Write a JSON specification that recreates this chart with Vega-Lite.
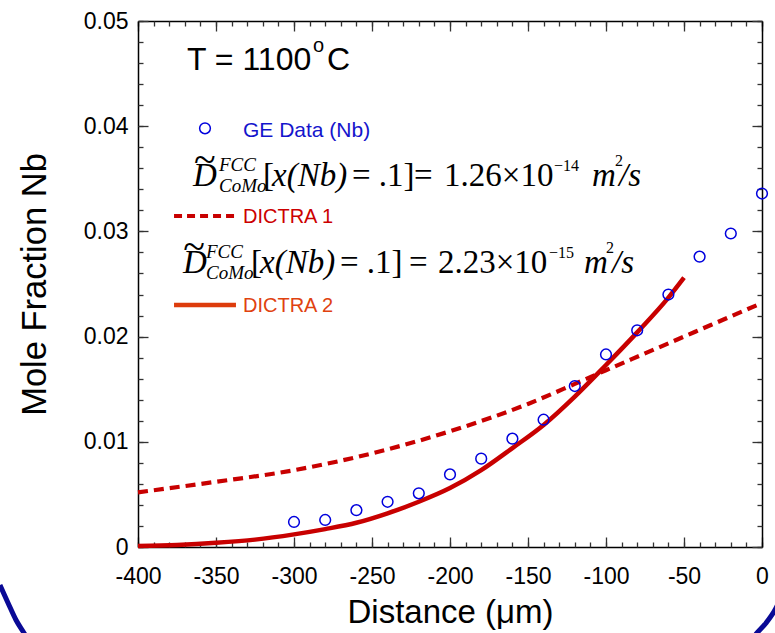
{
  "$schema": "https://vega.github.io/schema/vega-lite/v6.json",
  "width": 624,
  "height": 526,
  "autosize": {"type": "none"},
  "padding": {"left": 138, "top": 21, "right": 13, "bottom": 86},
  "background": "white",
  "config": {"view": {"stroke": null}, "axis": {"grid": false, "labelFont": "Liberation Sans", "titleFont": "Liberation Sans", "labelColor": "black", "titleColor": "black", "titleFontWeight": "normal", "domainColor": "black", "domainWidth": 1.5}},
  "datasets": {
    "ge": [
      {"x": -300, "y": 0.00238}, {"x": -280, "y": 0.00257}, {"x": -260, "y": 0.0035}, {"x": -240, "y": 0.0043},
      {"x": -220, "y": 0.0051}, {"x": -200, "y": 0.0069}, {"x": -180, "y": 0.0084}, {"x": -160, "y": 0.0103},
      {"x": -140, "y": 0.0121}, {"x": -120, "y": 0.0153}, {"x": -100, "y": 0.0183}, {"x": -80, "y": 0.0206},
      {"x": -60, "y": 0.024}, {"x": -40, "y": 0.0276}, {"x": -20, "y": 0.0298}, {"x": 0, "y": 0.0336}
    ],
    "dictra1": [
      {"x": -400, "y": 0.0052}, {"x": -350, "y": 0.0062}, {"x": -300, "y": 0.0073}, {"x": -250, "y": 0.0089},
      {"x": -200, "y": 0.011}, {"x": -150, "y": 0.0136}, {"x": -120, "y": 0.0155}, {"x": -100, "y": 0.0168},
      {"x": -75, "y": 0.0184}, {"x": -50, "y": 0.02}, {"x": -25, "y": 0.0216}, {"x": 0, "y": 0.0232}
    ],
    "dictra2": [
      {"x": -400, "y": 0.0001}, {"x": -375, "y": 0.0002}, {"x": -350, "y": 0.0004}, {"x": -325, "y": 0.0007},
      {"x": -300, "y": 0.0012}, {"x": -280, "y": 0.0017}, {"x": -260, "y": 0.0023}, {"x": -240, "y": 0.0032},
      {"x": -220, "y": 0.0043}, {"x": -200, "y": 0.0056}, {"x": -180, "y": 0.0073}, {"x": -160, "y": 0.0094},
      {"x": -140, "y": 0.0116}, {"x": -120, "y": 0.0143}, {"x": -100, "y": 0.0173}, {"x": -80, "y": 0.0204},
      {"x": -60, "y": 0.0237}, {"x": -50, "y": 0.0256}
    ],
    "legendLines": [
      {"series": "DICTRA 1", "x": -376.9, "y": 0.03146}, {"series": "DICTRA 1", "x": -337.2, "y": 0.03146},
      {"series": "DICTRA 2", "x": -376.9, "y": 0.023}, {"series": "DICTRA 2", "x": -337.2, "y": 0.023}
    ],
    "legendPoint": [{"x": -357.05, "y": 0.0398}],
    "arc": [
      {"side": "left", "x": -488.5, "y": -0.00361}, {"side": "left", "x": -483.3, "y": -0.00532},
      {"side": "left", "x": -478.2, "y": -0.00694}, {"side": "left", "x": -473.1, "y": -0.00817},
      {"side": "left", "x": -470.5, "y": -0.00884},
      {"side": "right", "x": 11.5, "y": -0.00504}, {"side": "right", "x": 8.3, "y": -0.00599},
      {"side": "right", "x": 2.6, "y": -0.00722}, {"side": "right", "x": -3.2, "y": -0.00817},
      {"side": "right", "x": -5.8, "y": -0.00865}
    ],
    "labels": [
      {"g": "head", "t": "T = 1100", "x": -368.6, "y": 0.04534},
      {"g": "head", "t": "C", "x": -278.8, "y": 0.04534},
      {"g": "headsup", "t": "o", "x": -287.8, "y": 0.04705},
      {"g": "ge", "t": "GE Data (Nb)", "x": -332.7, "y": 0.03897},
      {"g": "d1", "t": "DICTRA 1", "x": -332.7, "y": 0.0308},
      {"g": "d2", "t": "DICTRA 2", "x": -332.7, "y": 0.02234},
      {"g": "tilde", "t": "~", "x": -357.1, "y": 0.03555},
      {"g": "tilde", "t": "~", "x": -364.1, "y": 0.02728},
      {"g": "it", "t": "D", "x": -364.74, "y": 0.03432},
      {"g": "it", "t": "x(Nb)", "x": -314.1, "y": 0.03432},
      {"g": "it", "t": "m", "x": -108.97, "y": 0.03432},
      {"g": "it", "t": "/s", "x": -91.67, "y": 0.03432},
      {"g": "up", "t": "[", "x": -319.87, "y": 0.03432},
      {"g": "up", "t": "= .1]", "x": -262.82, "y": 0.03432},
      {"g": "up", "t": "=", "x": -223.08, "y": 0.03432},
      {"g": "up", "t": "1.26×10", "x": -203.8, "y": 0.03432},
      {"g": "its", "t": "FCC", "x": -348.08, "y": 0.03574},
      {"g": "its", "t": "CoMo", "x": -348.08, "y": 0.033745},
      {"g": "ups", "t": "−14", "x": -133.3, "y": 0.03574},
      {"g": "ups", "t": "2", "x": -94.23, "y": 0.03622},
      {"g": "it", "t": "D", "x": -371.15, "y": 0.02605},
      {"g": "it", "t": "x(Nb)", "x": -321.79, "y": 0.02605},
      {"g": "it", "t": "m", "x": -114.1, "y": 0.02605},
      {"g": "it", "t": "/s", "x": -96.15, "y": 0.02605},
      {"g": "up", "t": "[", "x": -327.56, "y": 0.02605},
      {"g": "up", "t": "= .1]", "x": -270.51, "y": 0.02605},
      {"g": "up", "t": "=", "x": -226.28, "y": 0.02605},
      {"g": "up", "t": "2.23×10", "x": -207.7, "y": 0.02605},
      {"g": "its", "t": "FCC", "x": -356.41, "y": 0.02747},
      {"g": "its", "t": "CoMo", "x": -356.41, "y": 0.02548},
      {"g": "ups", "t": "−15", "x": -136.5, "y": 0.02747},
      {"g": "ups", "t": "2", "x": -100.0, "y": 0.02795}
    ]
  },
  "resolve": {"axis": {"x": "independent", "y": "independent"}},
  "layer": [
    {
      "data": {"name": "dictra1"},
      "mark": {"type": "line", "color": "#c80000", "strokeWidth": 4.2, "strokeDash": [10, 6], "interpolate": "monotone"},
      "encoding": {
        "x": {"field": "x", "type": "quantitative", "scale": {"domain": [-400, 0], "nice": false, "zero": false},
          "axis": {"orient": "bottom", "values": [-400, -350, -300, -250, -200, -150, -100, -50, 0], "ticks": false, "labelExpr": "'' + datum.value", "labelFontSize": 23, "labelPadding": 18, "labelFlush": false, "labelOverlap": false, "title": "Distance (μm)", "titleFontSize": 33, "titlePadding": 8}},
        "y": {"field": "y", "type": "quantitative", "scale": {"domain": [0, 0.05], "nice": false, "zero": false},
          "axis": {"orient": "left", "values": [0, 0.01, 0.02, 0.03, 0.04, 0.05], "ticks": false, "labelExpr": "'' + datum.value", "labelFontSize": 23, "labelPadding": 10, "labelFlush": false, "labelOverlap": false, "title": "Mole Fraction Nb", "titleFontSize": 34.5, "titlePadding": 31}}
      }
    },
    {
      "data": {"name": "dictra2"},
      "mark": {"type": "line", "color": "#c80000", "strokeWidth": 4.5, "interpolate": "monotone"},
      "encoding": {
        "x": {"field": "x", "type": "quantitative", "axis": {"orient": "bottom", "values": [-400, -350, -300, -250, -200, -150, -100, -50, 0], "labels": false, "domain": false, "title": null, "tickSize": -10, "tickColor": "#333", "tickWidth": 1.3}},
        "y": {"field": "y", "type": "quantitative", "axis": {"orient": "left", "values": [0, 0.01, 0.02, 0.03, 0.04, 0.05], "labels": false, "domain": false, "title": null, "tickSize": -10, "tickColor": "#333", "tickWidth": 1.3}}
      }
    },
    {
      "data": {"name": "ge"},
      "mark": {"type": "point", "shape": "circle", "filled": false, "color": "#0000dd", "strokeWidth": 1.5, "size": 115, "opacity": 1},
      "encoding": {
        "x": {"field": "x", "type": "quantitative", "axis": {"orient": "bottom", "values": [-400, -390, -380, -370, -360, -350, -340, -330, -320, -310, -300, -290, -280, -270, -260, -250, -240, -230, -220, -210, -200, -190, -180, -170, -160, -150, -140, -130, -120, -110, -100, -90, -80, -70, -60, -50, -40, -30, -20, -10, 0], "labels": false, "domain": false, "title": null, "tickSize": -5, "tickColor": "#333", "tickWidth": 1.3}},
        "y": {"field": "y", "type": "quantitative", "axis": {"orient": "left", "values": [0, 0.002, 0.004, 0.006, 0.008, 0.01, 0.012, 0.014, 0.016, 0.018, 0.02, 0.022, 0.024, 0.026, 0.028, 0.03, 0.032, 0.034, 0.036, 0.038, 0.04, 0.042, 0.044, 0.046, 0.048, 0.05], "labels": false, "domain": false, "title": null, "tickSize": -5, "tickColor": "#333", "tickWidth": 1.3}}
      }
    },
    {
      "data": {"name": "legendLines"},
      "transform": [{"filter": "datum.series === 'DICTRA 1'"}],
      "mark": {"type": "line", "color": "#c80000", "strokeWidth": 4, "strokeDash": [8, 5]},
      "encoding": {
        "x": {"field": "x", "type": "quantitative", "axis": {"orient": "top", "values": [-400, -350, -300, -250, -200, -150, -100, -50, 0], "labels": false, "domain": true, "title": null, "tickSize": -10, "tickColor": "#333", "tickWidth": 1.3}},
        "y": {"field": "y", "type": "quantitative", "axis": {"orient": "right", "values": [0, 0.01, 0.02, 0.03, 0.04, 0.05], "labels": false, "domain": true, "title": null, "tickSize": -10, "tickColor": "#333", "tickWidth": 1.3}}
      }
    },
    {
      "data": {"name": "legendLines"},
      "transform": [{"filter": "datum.series === 'DICTRA 2'"}],
      "mark": {"type": "line", "color": "#dd3c0c", "strokeWidth": 4.5},
      "encoding": {
        "x": {"field": "x", "type": "quantitative", "axis": {"orient": "top", "values": [-400, -390, -380, -370, -360, -350, -340, -330, -320, -310, -300, -290, -280, -270, -260, -250, -240, -230, -220, -210, -200, -190, -180, -170, -160, -150, -140, -130, -120, -110, -100, -90, -80, -70, -60, -50, -40, -30, -20, -10, 0], "labels": false, "domain": false, "title": null, "tickSize": -5, "tickColor": "#333", "tickWidth": 1.3}},
        "y": {"field": "y", "type": "quantitative", "axis": {"orient": "right", "values": [0, 0.002, 0.004, 0.006, 0.008, 0.01, 0.012, 0.014, 0.016, 0.018, 0.02, 0.022, 0.024, 0.026, 0.028, 0.03, 0.032, 0.034, 0.036, 0.038, 0.04, 0.042, 0.044, 0.046, 0.048, 0.05], "labels": false, "domain": false, "title": null, "tickSize": -5, "tickColor": "#333", "tickWidth": 1.3}}
      }
    },
    {
      "data": {"name": "legendPoint"},
      "mark": {"type": "point", "shape": "circle", "filled": false, "color": "#0000dd", "strokeWidth": 1.5, "size": 115, "opacity": 1},
      "encoding": {
        "x": {"field": "x", "type": "quantitative", "axis": null},
        "y": {"field": "y", "type": "quantitative", "axis": null}
      }
    },
    {
      "data": {"name": "arc"},
      "mark": {"type": "line", "color": "#0a0a96", "strokeWidth": 5, "interpolate": "monotone"},
      "encoding": {
        "x": {"field": "x", "type": "quantitative", "axis": null},
        "y": {"field": "y", "type": "quantitative", "axis": null},
        "detail": {"field": "side"}
      }
    },
    {
      "data": {"name": "labels"},
      "transform": [{"filter": "datum.g === 'head'"}],
      "mark": {"type": "text", "align": "left", "baseline": "alphabetic", "font": "Liberation Sans", "fontSize": 32, "color": "black"},
      "encoding": {"x": {"field": "x", "type": "quantitative", "axis": null}, "y": {"field": "y", "type": "quantitative", "axis": null}, "text": {"field": "t"}}
    },
    {
      "data": {"name": "labels"},
      "transform": [{"filter": "datum.g === 'headsup'"}],
      "mark": {"type": "text", "align": "left", "baseline": "alphabetic", "font": "Liberation Sans", "fontSize": 20, "color": "black"},
      "encoding": {"x": {"field": "x", "type": "quantitative", "axis": null}, "y": {"field": "y", "type": "quantitative", "axis": null}, "text": {"field": "t"}}
    },
    {
      "data": {"name": "labels"},
      "transform": [{"filter": "datum.g === 'ge'"}],
      "mark": {"type": "text", "align": "left", "baseline": "alphabetic", "font": "Liberation Sans", "fontSize": 21, "color": "#1414cc"},
      "encoding": {"x": {"field": "x", "type": "quantitative", "axis": null}, "y": {"field": "y", "type": "quantitative", "axis": null}, "text": {"field": "t"}}
    },
    {
      "data": {"name": "labels"},
      "transform": [{"filter": "datum.g === 'd1'"}],
      "mark": {"type": "text", "align": "left", "baseline": "alphabetic", "font": "Liberation Sans", "fontSize": 20, "color": "#cc0000"},
      "encoding": {"x": {"field": "x", "type": "quantitative", "axis": null}, "y": {"field": "y", "type": "quantitative", "axis": null}, "text": {"field": "t"}}
    },
    {
      "data": {"name": "labels"},
      "transform": [{"filter": "datum.g === 'd2'"}],
      "mark": {"type": "text", "align": "left", "baseline": "alphabetic", "font": "Liberation Sans", "fontSize": 20, "color": "#e0420f"},
      "encoding": {"x": {"field": "x", "type": "quantitative", "axis": null}, "y": {"field": "y", "type": "quantitative", "axis": null}, "text": {"field": "t"}}
    },
    {
      "data": {"name": "labels"},
      "transform": [{"filter": "datum.g === 'tilde'"}],
      "mark": {"type": "text", "align": "center", "baseline": "alphabetic", "font": "Liberation Serif", "fontSize": 40, "color": "black"},
      "encoding": {"x": {"field": "x", "type": "quantitative", "axis": null}, "y": {"field": "y", "type": "quantitative", "axis": null}, "text": {"field": "t"}}
    },
    {
      "data": {"name": "labels"},
      "transform": [{"filter": "datum.g === 'it'"}],
      "mark": {"type": "text", "align": "left", "baseline": "alphabetic", "font": "Liberation Serif", "fontStyle": "italic", "fontSize": 33, "color": "black"},
      "encoding": {"x": {"field": "x", "type": "quantitative", "axis": null}, "y": {"field": "y", "type": "quantitative", "axis": null}, "text": {"field": "t"}}
    },
    {
      "data": {"name": "labels"},
      "transform": [{"filter": "datum.g === 'up'"}],
      "mark": {"type": "text", "align": "left", "baseline": "alphabetic", "font": "Liberation Serif", "fontSize": 33, "color": "black"},
      "encoding": {"x": {"field": "x", "type": "quantitative", "axis": null}, "y": {"field": "y", "type": "quantitative", "axis": null}, "text": {"field": "t"}}
    },
    {
      "data": {"name": "labels"},
      "transform": [{"filter": "datum.g === 'its'"}],
      "mark": {"type": "text", "align": "left", "baseline": "alphabetic", "font": "Liberation Serif", "fontStyle": "italic", "fontSize": 19, "color": "black"},
      "encoding": {"x": {"field": "x", "type": "quantitative", "axis": null}, "y": {"field": "y", "type": "quantitative", "axis": null}, "text": {"field": "t"}}
    },
    {
      "data": {"name": "labels"},
      "transform": [{"filter": "datum.g === 'ups'"}],
      "mark": {"type": "text", "align": "left", "baseline": "alphabetic", "font": "Liberation Serif", "fontSize": 16, "color": "black"},
      "encoding": {"x": {"field": "x", "type": "quantitative", "axis": null}, "y": {"field": "y", "type": "quantitative", "axis": null}, "text": {"field": "t"}}
    }
  ]
}
